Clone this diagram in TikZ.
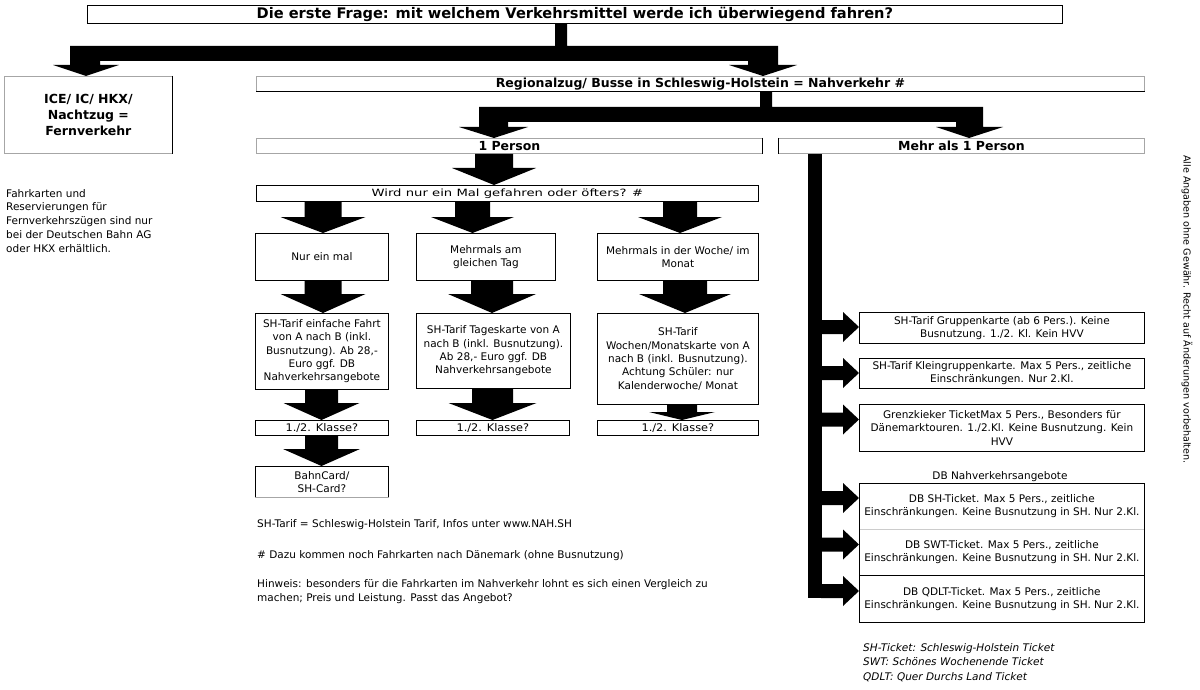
\documentclass[tikz,border=0pt]{standalone}
\usepackage{fontspec}
\usepackage{graphicx}
\setmainfont{DejaVu Sans}
\usetikzlibrary{calc}
\newcommand\fn{\fontsize{10.5}{13.3}\selectfont}
\newcommand\fb{\bfseries\fontsize{12.5}{16}\selectfont}
\newcommand\ft{\bfseries\fontsize{14.6}{17}\selectfont}
% down block arrow: #1 from, #2 to, #3 centre x, #4 stem half, #5 head half, #6 head length
\newcommand\dblk[6]{%
  \fill let \p1=(#1.south), \p2=(#2.north) in
  ({(#3-#4)*1pt},\y1) -- ({(#3-#4)*1pt},{\y2+#6pt}) -- ({(#3-#5)*1pt},{\y2+#6pt}) -- ({#3pt},\y2)
  -- ({(#3+#5)*1pt},{\y2+#6pt}) -- ({(#3+#4)*1pt},{\y2+#6pt}) -- ({(#3+#4)*1pt},\y1) -- cycle;}
% right block arrow from the vertical bar: #1 target node, #2 centre y
\newcommand\rblk[2]{%
  \fill let \p2=(#1.west) in
  (821pt,{-(#2-7)*1pt}) -- ({\x2-16pt},{-(#2-7)*1pt}) -- ({\x2-16pt},{-(#2-15)*1pt}) -- (\x2,{-#2pt})
  -- ({\x2-16pt},{-(#2+15)*1pt}) -- ({\x2-16pt},{-(#2+7)*1pt}) -- (821pt,{-(#2+7)*1pt}) -- cycle;}
\begin{document}
\begin{tikzpicture}[x=1pt,y=-1pt,
  box/.style={draw=black, line width=0.8pt, inner sep=0pt, anchor=north west, align=center, font=\fn},
  gbox/.style={box, draw=black!35},
  edge/.style={line width=0.8pt, draw=black},
  lbl/.style={inner sep=0pt, font=\fn}]
\useasboundingbox[fill=white] (0,0) rectangle (1200,690);

% top level
\node[box, minimum width=975pt, minimum height=18pt, font=\ft] (title) at (87,5)
  {Die erste Frage: mit welchem Verkehrsmittel werde ich überwiegend fahren?};
\node[gbox, minimum width=168pt, minimum height=77pt, font=\fb] (ice) at (4,76)
  {ICE/ IC/ HKX/\\Nachtzug =\\Fernverkehr};
\draw[edge] (ice.north east) -- (ice.south east);
\node[gbox, minimum width=888pt, minimum height=15pt, font=\fb] (reg) at (256,76)
  {Regionalzug/ Busse in Schleswig-Holstein = Nahverkehr \#};
\draw[edge] (reg.south west) -- (reg.south east);
\node[gbox, minimum width=506pt, minimum height=15pt, font=\fb] (p1) at (256,138) {1 Person};
\draw[edge] (p1.north east) -- (p1.south east);
\node[gbox, minimum width=366pt, minimum height=15pt, font=\fb] (pm) at (778,138) {Mehr als 1 Person};
\draw[edge] (pm.north west) -- (pm.south west);

% one person
\node[box, minimum width=502pt, minimum height=16pt] (wird) at (256,185)
  {\fontsize{10}{12}\selectfont\scalebox{1.32}[1]{Wird nur ein Mal gefahren oder öfters? \#}};
\node[box, minimum width=133pt, minimum height=47pt] (a1) at (255,233) {Nur ein mal};
\node[box, minimum width=139pt, minimum height=47pt] (a2) at (416,233) {Mehrmals am\\gleichen Tag};
\node[box, minimum width=161pt, minimum height=47pt] (a3) at (597,233) {Mehrmals in der Woche/ im\\Monat};
\node[box, minimum width=133pt, minimum height=76pt] (b1) at (255,313)
  {SH-Tarif einfache Fahrt\\von A nach B (inkl.\\Busnutzung). Ab 28,-\\Euro ggf. DB\\Nahverkehrsangebote};
\node[box, minimum width=154pt, minimum height=75pt] (b2) at (416,313)
  {SH-Tarif Tageskarte von A\\nach B (inkl. Busnutzung).\\Ab 28,- Euro ggf. DB\\Nahverkehrsangebote};
\node[box, minimum width=161pt, minimum height=91pt] (b3) at (597,313)
  {SH-Tarif\\Wochen/Monatskarte von A\\nach B (inkl. Busnutzung).\\Achtung Schüler: nur\\Kalenderwoche/ Monat};
\node[box, minimum width=133pt, minimum height=15pt] (c1) at (255,420) {\scalebox{1.08}[1]{1./2. Klasse?}};
\node[box, minimum width=153pt, minimum height=15pt] (c2) at (416,420) {\scalebox{1.08}[1]{1./2. Klasse?}};
\node[box, minimum width=161pt, minimum height=15pt] (c3) at (597,420) {\scalebox{1.08}[1]{1./2. Klasse?}};
\node[box, minimum width=133pt, minimum height=31pt] (d1) at (255,466) {BahnCard/\\SH-Card?};
\draw[draw=white, line width=0.9pt] (d1.south west) -- (d1.south east);
\draw[draw=black!35, line width=0.8pt] (d1.south west) -- (d1.south east);

% more than one person
\node[box, minimum width=285pt, minimum height=31pt] (r1) at (859,312)
  {SH-Tarif Gruppenkarte (ab 6 Pers.). Keine\\Busnutzung. 1./2. Kl. Kein HVV};
\node[box, minimum width=285pt, minimum height=30pt] (r2) at (859,358)
  {SH-Tarif Kleingruppenkarte. Max 5 Pers., zeitliche\\Einschränkungen. Nur 2.Kl.};
\node[box, minimum width=285pt, minimum height=47pt] (r3) at (859,404)
  {Grenzkieker TicketMax 5 Pers., Besonders für\\Dänemarktouren. 1./2.Kl. Keine Busnutzung. Kein\\HVV};
\node[lbl, anchor=base] (dbl) at (1000,479) {DB Nahverkehrsangebote};
\node[box, draw=none, minimum width=285pt, minimum height=46pt] (db1) at (859,483)
  {DB SH-Ticket. Max 5 Pers., zeitliche\\Einschränkungen. Keine Busnutzung in SH. Nur 2.Kl.};
\node[box, draw=none, minimum width=285pt, minimum height=46pt] (db2) at (859,529)
  {DB SWT-Ticket. Max 5 Pers., zeitliche\\Einschränkungen. Keine Busnutzung in SH. Nur 2.Kl.};
\node[box, draw=none, minimum width=285pt, minimum height=47pt] (db3) at (859,575)
  {DB QDLT-Ticket. Max 5 Pers., zeitliche\\Einschränkungen. Keine Busnutzung in SH. Nur 2.Kl.};
\draw[draw=black!20, line width=0.8pt] (db1.south west) -- (db1.south east);
\draw[edge] (db2.south west) -- (db2.south east);
\draw[edge] (db1.north west) rectangle (db3.south east);

% texts
\node[lbl, anchor=north west, align=left, font=\fontsize{10.5}{13.75}\selectfont] (fern) at (6,189)
  {Fahrkarten und\\Reservierungen für\\Fernverkehrszügen sind nur\\bei der Deutschen Bahn AG\\oder HKX erhältlich.};
\node[lbl, anchor=base west] (n1) at (257,527) {SH-Tarif = Schleswig-Holstein Tarif, Infos unter www.NAH.SH};
\node[lbl, anchor=base west] (n2) at (257,558) {\# Dazu kommen noch Fahrkarten nach Dänemark (ohne Busnutzung)};
\node[lbl, anchor=north west, align=left, font=\fontsize{10.5}{14}\selectfont] (n3) at (257,579)
  {Hinweis: besonders für die Fahrkarten im Nahverkehr lohnt es sich einen Vergleich zu\\machen; Preis und Leistung. Passt das Angebot?};
\node[lbl, anchor=north west, align=left, font=\fontsize{10.5}{14.5}\selectfont\itshape] (leg) at (863,643)
  {SH-Ticket: Schleswig-Holstein Ticket\\SWT: Schönes Wochenende Ticket\\QDLT: Quer Durchs Land Ticket};
\node[lbl, rotate=-90, anchor=west, font=\fontsize{9.6}{11}\selectfont] (disc) at (1187,155)
  {Alle Angaben ohne Gewähr. Recht auf Änderungen vorbehalten.};

% elbow block arrows
\fill let \p1=(title.south), \p2=(ice.north), \p3=(reg.north) in
  (555pt,\y1) -- (555,46) -- (70,46) -- (70,65) -- (53,65) -- (86pt,\y2) -- (119,65) -- (100,65)
  -- (100,61) -- (748,61) -- (748,65) -- (729,65) -- (763pt,\y3) -- (797,65) -- (778,65)
  -- (778,46) -- (567,46) -- (567pt,\y1) -- cycle;
\fill let \p1=(reg.south), \p2=(p1.north), \p3=(pm.north) in
  (760pt,\y1) -- (760,107) -- (479,107) -- (479,127) -- (459,127) -- (494pt,\y2) -- (528,127)
  -- (508,127) -- (508,122) -- (956,122) -- (956,127) -- (936,127) -- (969pt,\y3) -- (1003,127)
  -- (983,127) -- (983,107) -- (772,107) -- (772pt,\y1) -- cycle;

% down block arrows
\dblk{p1}{wird}{494}{19}{42}{17}
\dblk{wird}{a1}{323}{18.5}{42.5}{16}
\dblk{wird}{a2}{472.5}{17.5}{41.5}{16}
\dblk{wird}{a3}{680}{17}{42}{16}
\dblk{a1}{b1}{323}{18.5}{42.5}{19}
\dblk{a2}{b2}{492}{21}{44}{19}
\dblk{a3}{b3}{685}{22}{46}{19}
\dblk{b1}{c1}{321.5}{16.5}{38}{17}
\dblk{b2}{c2}{492.5}{20.5}{44}{17}
\dblk{b3}{c3}{682}{15}{33}{8}
\dblk{c1}{d1}{321.5}{16.5}{38.5}{17}

% vertical bar and right block arrows
\fill let \p1=(pm.south) in (808pt,\y1) rectangle (822,598);
\rblk{r1}{327}
\rblk{r2}{373}
\rblk{r3}{419.5}
\rblk{db1}{498}
\rblk{db2}{544.5}
\rblk{db3}{591}
\end{tikzpicture}
\end{document}
